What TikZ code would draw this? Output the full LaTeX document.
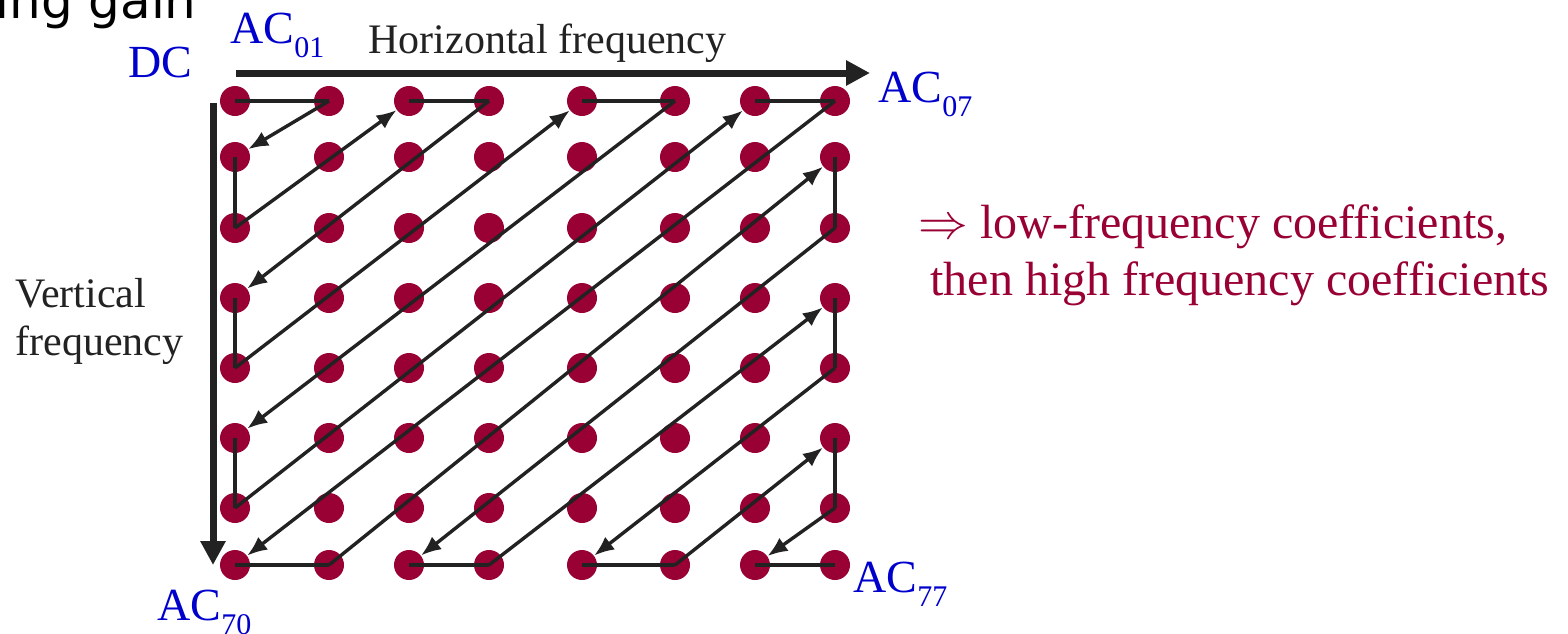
\documentclass[tikz,border=0pt]{standalone}
\usepackage{fontspec}
\setmainfont{Liberation Serif}
\newfontfamily\slidefont{DejaVu Sans}
\usepackage{tikz}
\usetikzlibrary{arrows.meta}
\definecolor{dctblue}{HTML}{0000CC}
\definecolor{dctred}{HTML}{990033}
\definecolor{dctink}{HTML}{222222}
\newcommand{\acoef}[1]{AC\raisebox{-7pt}{\fontsize{15}{15}\selectfont #1}}

\begin{document}
\begin{tikzpicture}[x=0.5pt,y=-0.5pt,
  coef/.style={circle,fill=dctred,minimum size=15pt,inner sep=0pt},
  scan/.style={line width=1.7pt,dctink},
  scanarrow/.style={scan,-{Latex[length=10pt,width=8pt]}},
  axis/.style={line width=3.5pt,dctink,-{Triangle[length=12pt,width=12pt]}},
  lab/.style={inner sep=0pt,anchor=base west,font=\fontsize{23}{26}\selectfont,text=dctblue},
  axlab/.style={inner sep=0pt,anchor=base west,font=\fontsize{21}{24}\selectfont,text=dctink}
]
\useasboundingbox (0,0) rectangle (1568,633);
\node[inner sep=0pt,anchor=base west,font=\slidefont\fontsize{25}{30}\selectfont] (title) at (-5,18) {ing gain};
\foreach \x [count=\c from 0] in {235,329,409,489,582,675,755,835}{\foreach \y [count=\r from 0] in {101,157,228,298,368,438,508,565}{\node[coef] (d\r\c) at (\x,\y) {};}}
\foreach \a/\b in {00/01,10/20,02/03,30/40,04/05,50/60,06/07,70/71,17/27,72/73,37/47,74/75,57/67,76/77}{\draw[scan] (d\a.center)--(d\b.center);}
\foreach \a/\b in {01/10,20/02,03/30,40/04,05/50,60/06,07/70,71/17,27/72,73/37,47/74,75/57,67/76}{\draw[scanarrow] (d\a.center)--(d\b);}
\coordinate (hstart) at (236,73);
\coordinate (hend) at (870,73);
\coordinate (vstart) at (213,103);
\coordinate (vend) at (213,565);
\draw[axis] (hstart)--(hend);
\draw[axis] (vstart)--(vend);
\node[lab] (dc) at (128,77) {DC};
\node[lab] (ac01) at (230,43) {\acoef{01}};
\node[lab] (ac07) at (878,102) {\acoef{07}};
\node[lab] (ac70) at (157,620) {\acoef{70}};
\node[lab] (ac77) at (853,592) {\acoef{77}};
\node[axlab] (hlab) at (368,53) {Horizontal frequency};
\node[axlab,align=left] (vlab) at (15,355) {Vertical\\frequency};
\node[inner sep=0pt,anchor=base west,align=left,font=\fontsize{24}{28.5}\selectfont,text=dctred] (note) at (918,295) {$\Rightarrow$ low-frequency coefficients,\\\hspace{6pt}then high frequency coefficients};
\end{tikzpicture}
\end{document}
